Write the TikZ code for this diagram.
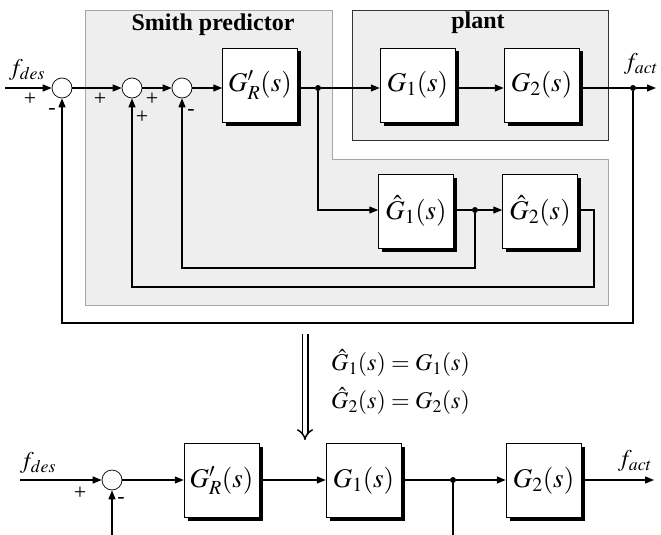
\documentclass[tikz,border=0pt]{standalone}
\usepackage{mathptmx}
\usepackage{fontspec}
\setmainfont{Liberation Serif}
\usetikzlibrary{arrows.meta,shadows}
\begin{document}
\begin{tikzpicture}[x=1pt,y=-1pt,
  sig/.style={line width=1.3pt,-{Triangle[length=9pt,width=7pt]}},
  wire/.style={line width=1.3pt},
  blk/.style={draw,line width=0.5pt,fill=white,minimum width=75pt,minimum height=74pt,inner sep=0pt,
    font=\fontsize{27}{31}\selectfont,
    drop shadow={shadow xshift=3.5pt,shadow yshift=-3.5pt,fill=black,opacity=1}},
  sumc/.style={draw,circle,line width=0.7pt,fill=white,minimum size=20pt,inner sep=0pt},
  dotj/.style={circle,fill=black,minimum size=6pt,inner sep=0pt},
  sgn/.style={font=\fontsize{22}{24}\selectfont,inner sep=0pt},
  lbl/.style={font=\fontsize{24}{28}\selectfont,inner sep=0pt},
  region/.style={fill=gray!13,draw=gray!70,line width=0.8pt}]
\useasboundingbox (0,0) rectangle (661,535);
% shaded regions
\draw[region] (85,10) -- (332,10) -- (332,159) -- (608,159) -- (608,305) -- (85,305) -- cycle;
\draw[region,draw=black!80] (352,10) rectangle (608,140);
\node[font=\bfseries\fontsize{24}{28}\selectfont] (tsp) at (213,25) {Smith predictor};
\node[font=\bfseries\fontsize{24}{28}\selectfont] (tpl) at (478,23) {plant};
% top row
\coordinate (in1) at (5,88);
\node[sumc] (s1) at (62,88) {};
\node[sumc] (s2) at (132,88) {};
\node[sumc] (s3) at (182,88) {};
\node[blk] (gr) at (260,85) {$G'_R(s)$};
\node[blk] (g1) at (417.5,85) {$G_1(s)$};
\node[blk] (g2) at (541.5,85) {$G_2(s)$};
\node[dotj] (j1) at (318,88) {};
\node[dotj] (j2) at (633,88) {};
\coordinate (out1) at (656,88);
\node[blk] (h1) at (416,211) {$\hat G_1(s)$};
\node[blk] (h2) at (540,211) {$\hat G_2(s)$};
\node[dotj] (j3) at (475,210) {};
\node[lbl] (lfd) at (27,70) {$f_{des}$};
\node[lbl] (lfa) at (641,64) {$f_{act}$};
\draw[sig] (in1) -- (s1);
\draw[sig] (s1) -- (s2);
\draw[sig] (s2) -- (s3);
\draw[sig] (s3) -- (gr.west |- s3);
\draw[wire] (gr.east |- j1) -- (j1);
\draw[sig] (j1) -- (g1.west |- j1);
\draw[sig] (g1.east |- j1) -- (g2.west |- j1);
\draw[wire] (g2.east |- j2) -- (j2);
\draw[sig] (j2) -- (out1);
\draw[sig] (j1) |- (h1.west |- j3);
\draw[wire] (h1.east |- j3) -- (j3);
\draw[sig] (j3) -- (h2.west |- j3);
\draw[sig] (h2.east |- j3) -- (594,210) -- (594,287) -| (s2.south);
\draw[sig] (j3) -- (475,268) -| (s3.south);
\draw[sig] (j2) -- (633,323) -| (s1.south);
% signs
\node[sgn] (p1) at (30,99) {+};
\node[sgn] (m1) at (52,111) {-};
\node[sgn] (p2) at (100,99) {+};
\node[sgn] (p3) at (142,117) {+};
\node[sgn] (p4) at (152,99) {+};
\node[sgn] (m2) at (191,112) {-};
% middle
\coordinate (da) at (305,334);
\coordinate (db) at (305,440);
\draw[double,line width=1.5pt,double distance=4pt,-{Implies}] (da) -- (db);
\node[lbl,anchor=west] (e1) at (331,363) {$\hat G_1(s) = G_1(s)$};
\node[lbl,anchor=west] (e2) at (331,401) {$\hat G_2(s) = G_2(s)$};
% bottom row
\coordinate (in2) at (20,480);
\node[sumc] (s4) at (112,480) {};
\node[blk] (grb) at (221.5,480.5) {$G'_R(s)$};
\node[blk] (g1b) at (363.5,480.5) {$G_1(s)$};
\node[dotj] (j4) at (453,480) {};
\node[blk] (g2b) at (543.5,480.5) {$G_2(s)$};
\coordinate (out2) at (654,480);
\coordinate (fb4) at (112,536);
\coordinate (fb5) at (453,536);
\node[lbl] (lfd2) at (38,463) {$f_{des}$};
\node[lbl] (lfa2) at (635,461) {$f_{act}$};
\draw[sig] (in2) -- (s4);
\draw[sig] (s4) -- (grb.west |- s4);
\draw[sig] (grb.east |- s4) -- (g1b.west |- s4);
\draw[wire] (g1b.east |- j4) -- (j4);
\draw[sig] (j4) -- (g2b.west |- j4);
\draw[sig] (g2b.east |- j4) -- (out2);
\draw[sig] (fb4) -- (s4.south);
\draw[wire] (j4) -- (fb5);
\node[sgn] (p5) at (80,493) {+};
\node[sgn] (m3) at (121,500) {-};
\end{tikzpicture}
\end{document}
